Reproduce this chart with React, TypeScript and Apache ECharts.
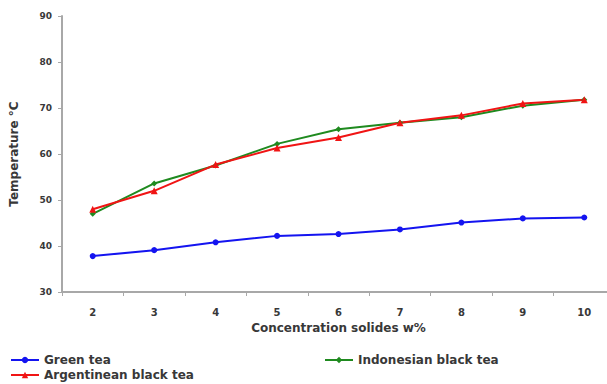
import React, { useEffect, useRef } from "react";
import * as echarts from "echarts";

const concentrations = ["2", "3", "4", "5", "6", "7", "8", "9", "10"];
const greenTea = [37.8, 39.1, 40.8, 42.2, 42.6, 43.6, 45.1, 46.0, 46.2];
const argentineanBlackTea = [48.0, 52.0, 57.7, 61.3, 63.6, 66.8, 68.4, 71.0, 71.8];
const indonesianBlackTea = [47.0, 53.6, 57.5, 62.2, 65.4, 66.8, 68.0, 70.5, 71.8];

const FONT = "'DejaVu Sans', Verdana, sans-serif";
const TEXT = "#383838";
const AXIS = "#a8a8a8";

export default function App() {
  const ref = useRef<HTMLDivElement>(null);

  useEffect(() => {
    if (!ref.current) return;
    const chart = echarts.init(ref.current, undefined, { renderer: "svg" });
    const legendText = { fontFamily: FONT, fontSize: 12, fontWeight: "bold", color: TEXT };
    chart.setOption({
      animation: false,
      backgroundColor: "#fff",
      textStyle: { fontFamily: FONT },
      grid: { left: 62, top: 16, width: 553, height: 276, containLabel: false },
      legend: [
        { data: ["Green tea"], left: 10, top: 354, itemWidth: 28, itemHeight: 8, textStyle: legendText, padding: 0 },
        { data: ["Argentinean black tea"], left: 10, top: 369, itemWidth: 28, itemHeight: 8, textStyle: legendText, padding: 0 },
        { data: ["Indonesian black tea"], left: 324, top: 354, itemWidth: 28, itemHeight: 8, textStyle: legendText, padding: 0 },
      ],
      xAxis: {
        type: "category",
        data: concentrations,
        boundaryGap: true,
        name: "Concentration solides w%",
        nameLocation: "middle",
        nameGap: 30,
        nameTextStyle: { fontFamily: FONT, fontSize: 12, fontWeight: "bold", color: TEXT },
        axisLine: { lineStyle: { color: AXIS, width: 2 } },
        axisTick: { show: true, length: 4, lineStyle: { color: AXIS, width: 1 } },
        axisLabel: { fontFamily: FONT, fontSize: 10, fontWeight: "bold", color: TEXT, margin: 15 },
        splitLine: { show: false },
      },
      yAxis: {
        type: "value",
        min: 30,
        max: 90,
        interval: 10,
        name: "Temperature °C",
        nameLocation: "middle",
        nameGap: 42,
        nameTextStyle: { fontFamily: FONT, fontSize: 12, fontWeight: "bold", color: TEXT },
        axisLine: { show: true, lineStyle: { color: AXIS, width: 2 } },
        axisTick: { show: true, length: 4, lineStyle: { color: AXIS, width: 1 } },
        axisLabel: { fontFamily: FONT, fontSize: 9, fontWeight: "bold", color: TEXT, margin: 10 },
        splitLine: { show: false },
      },
      series: [
        {
          name: "Green tea",
          type: "line",
          data: greenTea,
          symbol: "circle",
          symbolSize: 6,
          color: "#1414f0",
          lineStyle: { width: 2, color: "#1414f0" },
          itemStyle: { color: "#1414f0" },
        },
        {
          name: "Indonesian black tea",
          type: "line",
          data: indonesianBlackTea,
          symbol: "diamond",
          symbolSize: 6,
          color: "#1f8a1f",
          lineStyle: { width: 2, color: "#1f8a1f" },
          itemStyle: { color: "#1f8a1f" },
        },
        {
          name: "Argentinean black tea",
          type: "line",
          data: argentineanBlackTea,
          symbol: "triangle",
          symbolSize: 7,
          color: "#f01414",
          lineStyle: { width: 2, color: "#f01414" },
          itemStyle: { color: "#f01414" },
        },
      ],
    });
    return () => chart.dispose();
  }, []);

  // The plot area runs past the right edge, so the chart is wider than its frame.
  return (
    <div style={{ position: "fixed", left: 0, top: 0, width: 607, height: 384, overflow: "hidden", background: "#fff" }}>
      <div ref={ref} style={{ width: 640, height: 384 }} />
    </div>
  );
}
